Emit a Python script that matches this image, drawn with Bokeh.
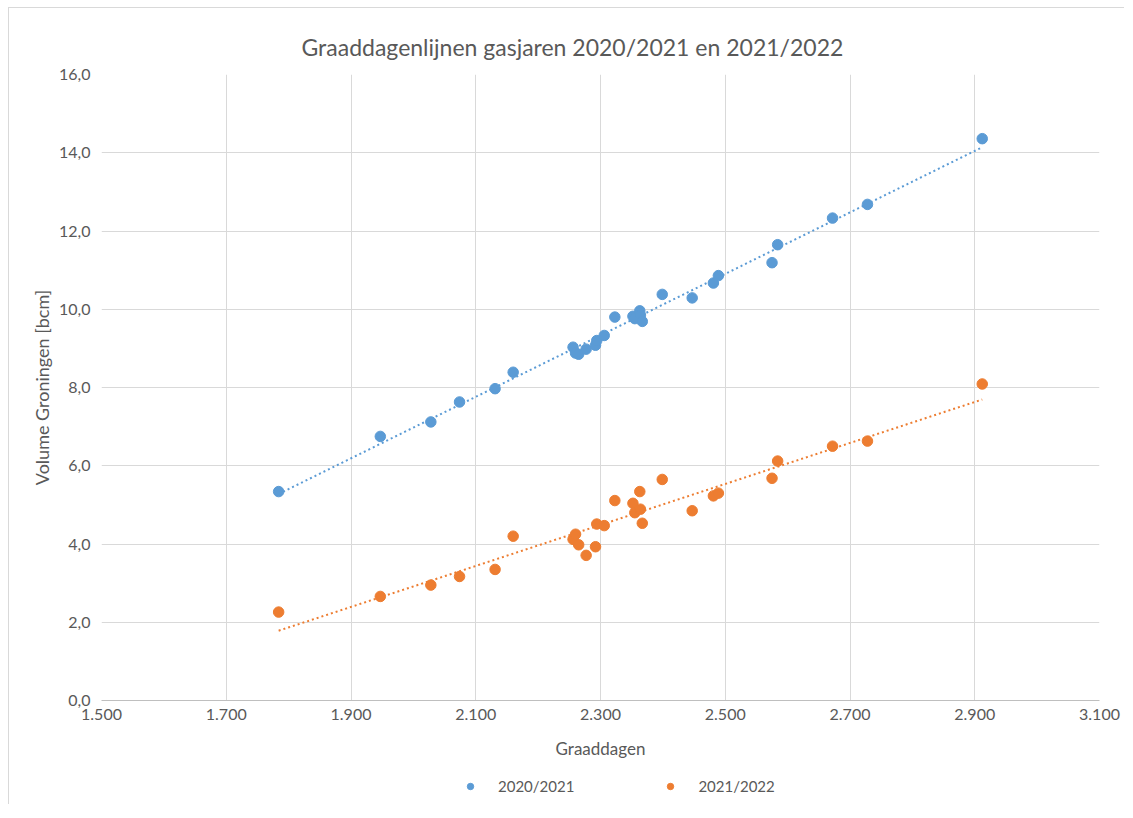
import numpy as np
from bokeh.plotting import figure
from bokeh.layouts import column
from bokeh.models import (Range1d, FixedTicker, CustomJSTickFormatter, Legend, LegendItem,
                          ColumnDataSource)
from bokeh.embed import file_html
from bokeh.resources import INLINE

# ---- data ----
graaddagen = [1784, 1947, 2028, 2074, 2131, 2160, 2256, 2260, 2265, 2277, 2292, 2294, 2306,
              2323, 2352, 2355, 2363, 2364, 2367, 2399, 2447, 2481, 2489, 2575, 2584, 2672,
              2728, 2912]
vol_2020_2021 = [5.34, 6.75, 7.12, 7.63, 7.97, 8.39, 9.03, 8.88, 8.85, 8.98, 9.08, 9.20, 9.33,
                 9.80, 9.82, 9.76, 9.96, 9.85, 9.69, 10.38, 10.29, 10.67, 10.86, 11.19, 11.65,
                 12.33, 12.68, 14.36]
vol_2021_2022 = [2.26, 2.66, 2.95, 3.17, 3.35, 4.20, 4.12, 4.25, 3.98, 3.71, 3.93, 4.51, 4.47,
                 5.11, 5.04, 4.80, 5.34, 4.89, 4.53, 5.65, 4.85, 5.23, 5.30, 5.68, 6.12,
                 6.50, 6.63, 8.09]
series_names = ["2020/2021", "2021/2022"]
x_ticks = [1500, 1700, 1900, 2100, 2300, 2500, 2700, 2900, 3100]
y_ticks = [0, 2, 4, 6, 8, 10, 12, 14, 16]

BLUE = "#5B9BD5"
ORANGE = "#ED7D31"
TXT = "#595959"
GRID = "#d9d9d9"
FONT = "Lato"

p = figure(frame_width=997, frame_height=625, output_backend="svg", toolbar_location=None,
           x_range=Range1d(1500, 3100), y_range=Range1d(0, 16),
           min_border_left=92, min_border_right=26, min_border_top=66, min_border_bottom=65)
p.styles = {"margin-left": "8px", "margin-top": "7px",
            "border-left": "1px solid #d9d9d9", "border-top": "1px solid #d9d9d9"}
p.outline_line_color = None
p.background_fill_color = "white"
p.border_fill_color = "white"

p.title.text = "Graaddagenlijnen gasjaren 2020/2021 en 2021/2022"
p.title.align = "left"
p.title.offset = 200
p.title.text_font = FONT
p.title.text_font_size = "23px"
p.title.text_font_style = "normal"
p.title.text_color = TXT
p.title.standoff = 28

# trend lines (least squares fits of each series)
xs = np.array(graaddagen, dtype=float)
xl = np.array([xs.min(), xs.max()])
for vals, col in [(vol_2020_2021, BLUE), (vol_2021_2022, ORANGE)]:
    k, b = np.polyfit(xs, np.array(vals), 1)
    p.line(xl, k * xl + b, line_color=col, line_width=2, line_dash="2 3")

sources = []
for vals, col in [(vol_2020_2021, BLUE), (vol_2021_2022, ORANGE)]:
    src = ColumnDataSource(dict(x=graaddagen, y=vals))
    sources.append((src, col))
    p.scatter("x", "y", source=src, size=10.5, fill_color=col, line_color=col)

# axes
p.xaxis.ticker = FixedTicker(ticks=x_ticks)
p.yaxis.ticker = FixedTicker(ticks=y_ticks)
p.xaxis.formatter = CustomJSTickFormatter(
    code="return tick.toFixed(0).replace(/\\B(?=(\\d{3})+(?!\\d))/g, '.');")
p.yaxis.formatter = CustomJSTickFormatter(code="return tick.toFixed(1).replace('.', ',');")
for ax in (p.xaxis[0], p.yaxis[0]):
    ax.major_tick_line_color = None
    ax.minor_tick_line_color = None
    ax.major_tick_out = 0
    ax.major_tick_in = 0
    ax.major_label_text_font = FONT
    ax.major_label_text_font_size = "16px"
    ax.major_label_text_color = TXT
    ax.axis_label_text_font = FONT
    ax.axis_label_text_font_style = "normal"
    ax.axis_label_text_color = TXT
p.xaxis.axis_label_text_font_size = "17px"
p.yaxis.axis_label_text_font_size = "18px"
p.xaxis.axis_line_color = "#bfbfbf"
p.yaxis.axis_line_color = None
p.xaxis.axis_label = "Graaddagen"
p.yaxis.axis_label = "Volume Groningen [bcm]"
p.xaxis.major_label_standoff = 8
p.xaxis.axis_label_standoff = 15
p.yaxis.major_label_standoff = 11
p.yaxis.axis_label_standoff = 3

p.xgrid.ticker = FixedTicker(ticks=x_ticks)
p.ygrid.ticker = FixedTicker(ticks=y_ticks)
p.xgrid.grid_line_color = GRID
p.ygrid.grid_line_color = GRID

# legend strip below the chart (same series renderers, drawn out of view)
lf = figure(width=1117, height=40, output_backend="svg", toolbar_location=None,
            x_range=Range1d(0, 1), y_range=Range1d(0, 1), x_axis_type=None, y_axis_type=None,
            min_border=0)
lf.styles = {"margin-left": "8px", "border-left": "1px solid #d9d9d9"}
lf.outline_line_color = None
lf.xgrid.visible = False
lf.ygrid.visible = False
lrs = []
for src, col in sources:
    lrs.append(lf.scatter("x", "y", source=src, size=10.5, fill_color=col, line_color=col))
legend = Legend(items=[LegendItem(label=series_names[0], renderers=[lrs[0]]),
                       LegendItem(label=series_names[1], renderers=[lrs[1]])],
                orientation="horizontal", location=(361, 9),
                border_line_color=None, background_fill_alpha=0,
                label_text_font=FONT, label_text_font_size="15px", label_text_color=TXT,
                glyph_width=16, glyph_height=16, label_height=16,
                label_standoff=20, spacing=88, margin=0, padding=4)
lf.add_layout(legend, "center")

open("out.html", "w").write(file_html(column(p, lf), INLINE))
